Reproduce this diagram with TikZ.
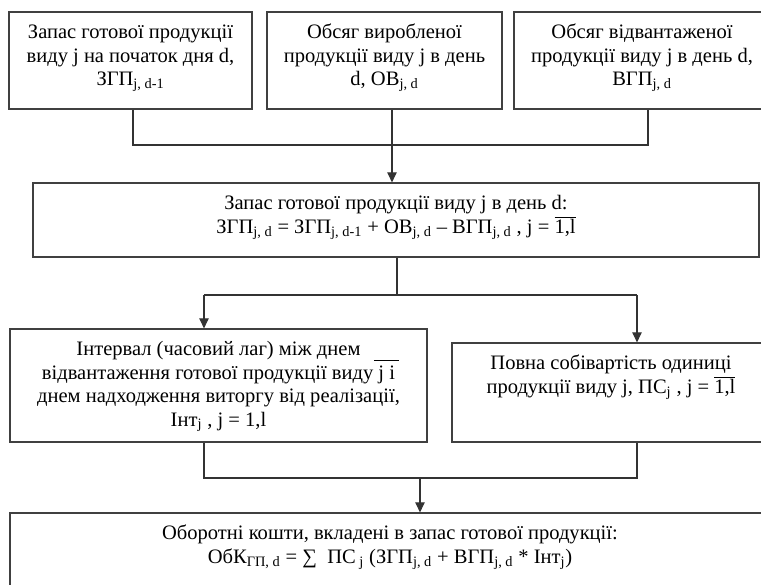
\documentclass[tikz,border=0pt]{standalone}
\usepackage{fontspec}
\setmainfont{Liberation Serif}
\usetikzlibrary{arrows.meta}
\tikzset{
    blk/.style={draw=black!75, line width=0.9pt, inner sep=0pt},
    link/.style={draw=black!80, line width=0.8pt},
    arr/.style={link, -{Triangle[length=7.5pt, width=7pt]}}
}
% box text: height, width, lines (top aligned, centred)
\newcommand{\cellbox}[3]{\parbox[c][#1][t]{#2}{\fontsize{15.4pt}{17.6pt}\selectfont\centering\rule{0pt}{20pt}#3}}
\newcommand{\lo}[1]{\textsubscript{#1}}
\newcommand{\ovl}[1]{$\overline{\mbox{#1}}$}

\begin{document}
\begin{tikzpicture}[x=0.75pt, y=-0.75pt]
\useasboundingbox (0,0) rectangle (761,585);
\clip (0,0) rectangle (761,585);

% top row
\node[blk] (top1) at (130.5,60.5) {\cellbox{72.75pt}{182.25pt}{Запас готової продукції\\виду j на початок дня d,\\ЗГП\lo{j, d-1}}};
\node[blk] (top2) at (384.5,60.5) {\cellbox{72.75pt}{176.25pt}{Обсяг виробленої\\продукції виду j в день\\d, ОВ\lo{j, d}}};
\node[blk] (top3) at (642,60.5) {\cellbox{72.75pt}{192pt}{Обсяг відвантаженої\\продукції виду j в день d,\\ВГП\lo{j, d}}};

% stock of the day
\node[blk] (mid) at (396,220) {\cellbox{55.5pt}{544.5pt}{Запас готової продукції виду j в день d:\\ЗГП\lo{j, d} = ЗГП\lo{j, d-1} + ОВ\lo{j, d} -- ВГП\lo{j, d} , j = \ovl{1,l}}};

% lag and unit cost
\node[blk] (lowL) at (218.5,385.5) {\cellbox{84.75pt}{312.75pt}{Інтервал (часовий лаг) між днем\rlap{\hspace{10pt}\rule[-4pt]{19pt}{0.5pt}}\\відвантаження готової продукції виду j і\\днем надходження виторгу від реалізації,\\Інт\lo{j} , j = 1,l}};
\node[blk] (lowR) at (611,392.5) {\cellbox{74.25pt}{238.5pt}{Повна собівартість одиниці\\продукції виду j, ПС\lo{j} , j = \ovl{1,l}}};

% working capital
\node[blk] (bot) at (390,558) {\cellbox{67.5pt}{570pt}{Оборотні кошти, вкладені в запас готової продукції:\\ОбК\lo{ГП, d} = ∑ ~ПС\lo{ j} (ЗГП\lo{j, d} + ВГП\lo{j, d} * Інт\lo{j})}};

\coordinate (t1) at (133,145);
\coordinate (t2) at (392,145);
\coordinate (t3) at (648,145);
\coordinate (m) at (397,295);
\coordinate (aL) at (204,295);
\coordinate (aR) at (637,295);
\coordinate (bL) at (204,478);
\coordinate (bM) at (420,478);
\coordinate (bR) at (637,478);

\draw[link] (t1 |- top1.south) -- (t1) -- (t3) -- (t3 |- top3.south);
\draw[link] (t2 |- top2.south) -- (t2);
\draw[arr] (t2) -- (t2 |- mid.north);

\draw[link] (m |- mid.south) -- (m);
\draw[link] (aL) -- (aR);
\draw[arr] (aL) -- (aL |- lowL.north);
\draw[arr] (aR) -- (aR |- lowR.north);

\draw[link] (bL |- lowL.south) -- (bL) -- (bR) -- (bR |- lowR.south);
\draw[arr] (bM) -- (bM |- bot.north);

\end{tikzpicture}
\end{document}
